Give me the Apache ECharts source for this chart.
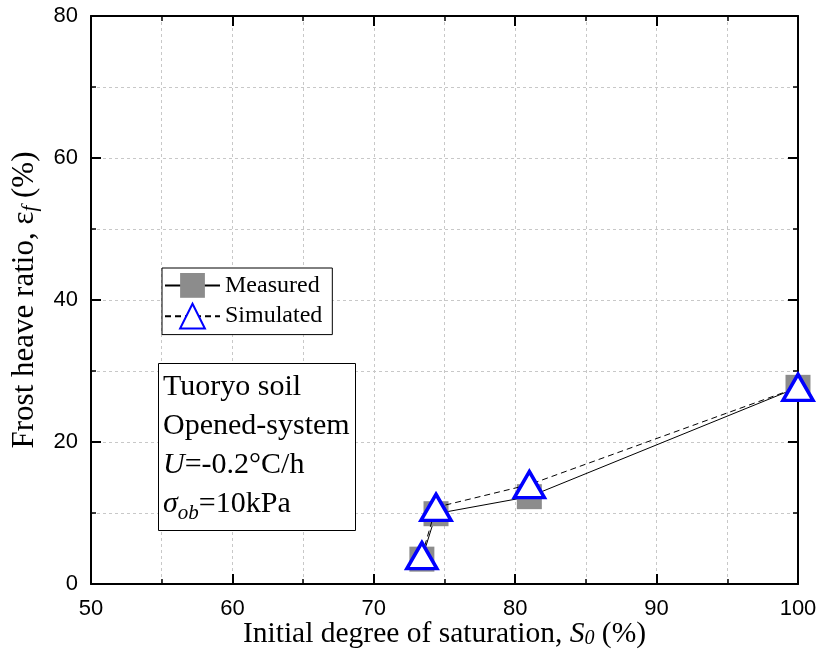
<!DOCTYPE html>
<html>
<head>
<meta charset="utf-8">
<script src="https://cdn.jsdelivr.net/npm/echarts@6/dist/echarts.min.js"></script>
<style>
html,body{margin:0;padding:0;background:#fff;}
#chart{width:821px;height:655px;}
</style>
</head>
<body>
<div id="chart"></div>
<script>
// Data
const saturation = [73.4, 74.4, 81, 100];          // S0 (%)
const measured   = [3.5, 9.9, 12.3, 27.7];          // frost heave ratio (%)
const simulated  = [4.0, 10.8, 14.0, 27.7];
const seriesNames = ['Measured', 'Simulated'];
const annotationLines = ['Tuoryo soil', 'Opened-system', '{i|U}=-0.2°C/h', '{i|σ}{sub|ob}=10kPa'];

const serif = 'Liberation Serif';
const sans = 'Liberation Sans';

const chart = echarts.init(document.getElementById('chart'), null, {renderer: 'canvas'});

const gridLine = {show: true, lineStyle: {color: '#c8c8c8', type: [3, 3], width: 1}};

function toPairs(xs, ys) { return xs.map((x, i) => [x, ys[i]]); }

const option = {
  backgroundColor: '#fff',
  animation: false,
  grid: {left: 91, right: 23, top: 16, bottom: 71, containLabel: false, outerBoundsMode: 'none'},
  title: {
    text: annotationLines.join('\n'),
    left: 158, top: 363,
    backgroundColor: '#fff',
    borderColor: '#000', borderWidth: 1,
    padding: [5, 6, 7, 5],
    textStyle: {
      fontFamily: serif, fontSize: 30, fontWeight: 'normal', color: '#000', lineHeight: 39,
      rich: {
        i: {fontFamily: serif, fontSize: 30, fontStyle: 'italic', color: '#000', lineHeight: 39},
        sub: {fontFamily: serif, fontSize: 21, fontStyle: 'italic', color: '#000', lineHeight: 24, verticalAlign: 'bottom'}
      }
    }
  },
  legend: {
    data: seriesNames,
    orient: 'vertical',
    left: 162, top: 268,
    itemWidth: 55, itemHeight: 31, itemGap: 5,
    padding: [5, 10, 5, 2],
    backgroundColor: '#fff',
    borderColor: '#000', borderWidth: 1, borderRadius: 0,
    textStyle: {fontFamily: serif, fontSize: 24, color: '#000'}
  },
  xAxis: [{
    type: 'value', min: 50, max: 100, interval: 10,
    name: 'Initial degree of saturation, {i|S}{sub|0} (%)',
    nameLocation: 'middle', nameGap: 35, nameMoveOverlap: false,
    nameTextStyle: {
      fontFamily: serif, fontSize: 29.5, color: '#000', lineHeight: 30,
      rich: {
        i: {fontFamily: serif, fontSize: 29.5, fontStyle: 'italic', color: '#000', lineHeight: 30},
        sub: {fontFamily: serif, fontSize: 20, fontStyle: 'italic', color: '#000', lineHeight: 16, verticalAlign: 'bottom'}
      }
    },
    axisLine: {show: true, onZero: false, lineStyle: {color: '#000', width: 2}},
    axisTick: {show: true, inside: true, length: 10, lineStyle: {color: '#000', width: 2}},
    minorTick: {show: true, splitNumber: 2, length: 5, lineStyle: {color: '#000', width: 1.5}},
    axisLabel: {fontFamily: sans, fontSize: 22, color: '#000', margin: 14},
    splitLine: gridLine,
    minorSplitLine: gridLine
  }, {
    type: 'value', min: 50, max: 100, interval: 10, position: 'top',
    axisLine: {show: true, onZero: false, lineStyle: {color: '#000', width: 2}},
    axisTick: {show: true, inside: true, length: 10, lineStyle: {color: '#000', width: 2}},
    minorTick: {show: true, splitNumber: 2, length: 5, lineStyle: {color: '#000', width: 1.5}},
    axisLabel: {show: false},
    splitLine: {show: false}
  }],
  yAxis: [{
    type: 'value', min: 0, max: 80, interval: 20,
    name: 'Frost heave ratio, {i|ε}{sub|f} (%)',
    nameLocation: 'middle', nameGap: 50, nameRotate: 90, nameMoveOverlap: false,
    nameTextStyle: {
      fontFamily: serif, fontSize: 31, color: '#000', lineHeight: 32,
      rich: {
        i: {fontFamily: serif, fontSize: 31, color: '#000', lineHeight: 32},
        sub: {fontFamily: serif, fontSize: 21, fontStyle: 'italic', color: '#000', lineHeight: 17, verticalAlign: 'bottom'}
      }
    },
    axisLine: {show: true, onZero: false, lineStyle: {color: '#000', width: 2}},
    axisTick: {show: true, inside: true, length: 10, lineStyle: {color: '#000', width: 2}},
    minorTick: {show: true, splitNumber: 2, length: 5, lineStyle: {color: '#000', width: 1.5}},
    axisLabel: {fontFamily: sans, fontSize: 22, color: '#000', margin: 13},
    splitLine: gridLine,
    minorSplitLine: gridLine
  }, {
    type: 'value', min: 0, max: 80, interval: 20, position: 'right',
    axisLine: {show: true, onZero: false, lineStyle: {color: '#000', width: 2}},
    axisTick: {show: true, inside: true, length: 10, lineStyle: {color: '#000', width: 2}},
    minorTick: {show: true, splitNumber: 2, length: 5, lineStyle: {color: '#000', width: 1.5}},
    axisLabel: {show: false},
    splitLine: {show: false}
  }],
  series: [{
    name: seriesNames[0],
    type: 'line',
    data: toPairs(saturation, measured),
    symbol: 'rect', symbolSize: 25,
    itemStyle: {color: '#8c8c8c', borderWidth: 0},
    lineStyle: {color: '#000', width: 1, type: 'solid'},
    z: 2
  }, {
    name: seriesNames[1],
    type: 'line',
    data: toPairs(saturation, simulated),
    symbol: 'triangle', symbolSize: [30, 26],
    itemStyle: {color: '#fff', borderColor: '#0000ff', borderWidth: 3.5},
    lineStyle: {color: '#000', width: 1, type: [6, 4]},
    z: 3
  }]
};
chart.setOption(option);
</script>
</body>
</html>
